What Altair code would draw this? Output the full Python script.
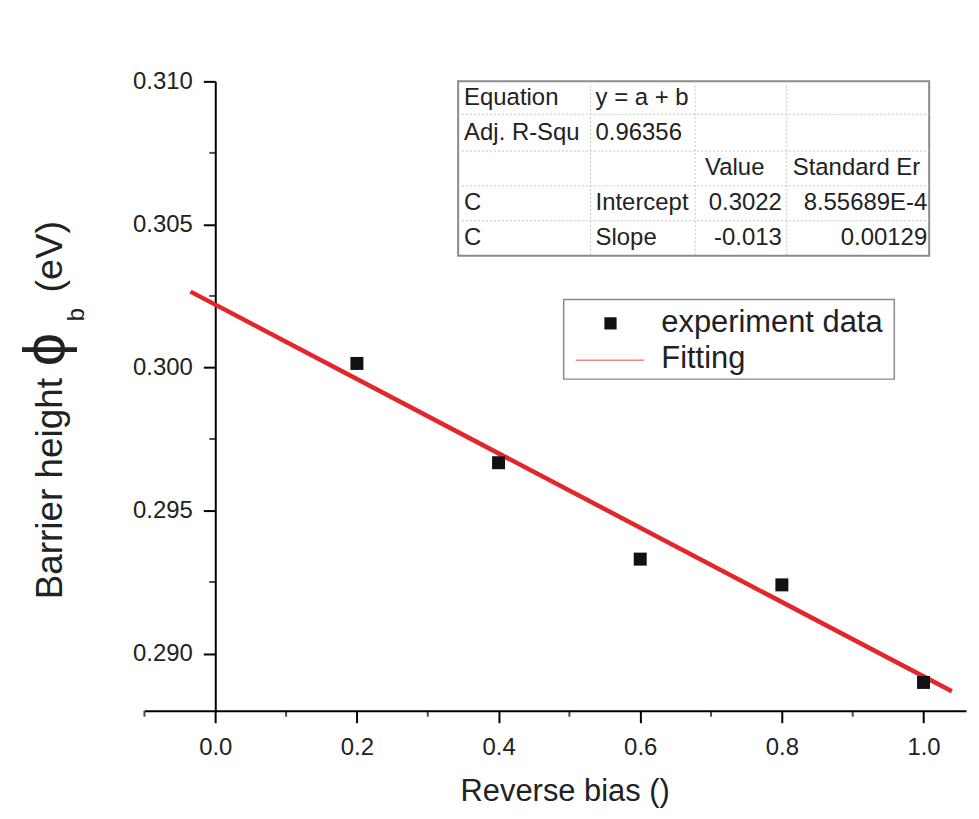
import altair as alt
import pandas as pd

# ---------------- data ----------------
bias = [0.2, 0.4, 0.6, 0.8, 1.0]
barrier = [0.30014, 0.29667, 0.29330, 0.29240, 0.28899]
fit_x = [-0.035, 1.04]
fit_y = [0.30265, 0.28868]

x_major_ticks = [0.0, 0.2, 0.4, 0.6, 0.8, 1.0]
x_minor_ticks = [-0.1, 0.1, 0.3, 0.5, 0.7, 0.9]
y_major_ticks = [0.290, 0.295, 0.300, 0.305, 0.310]
y_minor_ticks = [0.2925, 0.2975, 0.3025, 0.3075]

x_title = "Reverse bias ()"
y_title_main = "Barrier height"
y_title_sym = "ϕ"
y_title_sub = "b"
y_title_unit = "(eV)"

legend_labels = ["experiment data", "Fitting"]

table_rows = [
    ["Equation", "y = a + b", "", ""],
    ["Adj. R-Squ", "0.96356", "", ""],
    ["", "", "Value", "Standard Er"],
    ["C", "Intercept", "0.3022", "8.55689E-4"],
    ["C", "Slope", "-0.013", "0.00129"],
]

# ---------------- layout / style ----------------
W, H = 825, 632
X_DOMAIN = [-0.1, 1.06]
Y_DOMAIN = [0.288, 0.310]
FONT = "Liberation Sans"
TXT = "#222222"
RED = "#e3262b"

# annotation pixel layout (relative to plot origin)
col_edges = [315, 448, 553, 645, 788]
row_edges = [0, 33, 70, 105, 140, 175]
col_left = [321, 453, 563, 651]
col_right = [None, None, 640, 786]

y_axis_offset = -W * (0 - X_DOMAIN[0]) / (X_DOMAIN[1] - X_DOMAIN[0])

# ---------------- data layer ----------------
pts = pd.DataFrame({"bias": bias, "barrier": barrier})
fit = pd.DataFrame({"bias": fit_x, "barrier": fit_y})

xscale = alt.Scale(domain=X_DOMAIN, nice=False, zero=False)
yscale = alt.Scale(domain=Y_DOMAIN, nice=False, zero=False)

x_axis = alt.Axis(
    values=x_major_ticks,
    format=".1f",
    tickSize=12,
    labelPadding=13,
    labelFontSize=24,
    labelOverlap=False,
    labelFlush=False,
    title=x_title,
    titleFontSize=31,
    titleFontWeight="normal",
    titlePadding=17,
    titleX=422,
    grid=False,
)
y_axis = alt.Axis(
    values=y_major_ticks,
    format=".3f",
    tickSize=12,
    labelPadding=11,
    labelFontSize=24,
    labelOverlap=False,
    labelFlush=False,
    offset=y_axis_offset,
    title=None,
    grid=False,
)

line = alt.Chart(fit).mark_line(color=RED, strokeWidth=4.5).encode(
    x=alt.X("bias:Q", scale=xscale, axis=x_axis),
    y=alt.Y("barrier:Q", scale=yscale, axis=y_axis),
)
points = alt.Chart(pts).mark_square(size=170, color="#111111", opacity=1).encode(
    x=alt.X("bias:Q", scale=xscale),
    y=alt.Y("barrier:Q", scale=yscale),
)
x_minor = alt.Chart(pd.DataFrame({"v": x_minor_ticks})).mark_tick(
    orient="vertical", size=6, thickness=2, color="black", yOffset=3
).encode(
    x=alt.X("v:Q", scale=xscale),
    y=alt.datum(Y_DOMAIN[0], scale=yscale),
)
y_minor = alt.Chart(pd.DataFrame({"v": y_minor_ticks})).mark_tick(
    orient="horizontal", size=6, thickness=2, color="black", xOffset=-3
).encode(
    y=alt.Y("v:Q", scale=yscale),
    x=alt.datum(0, scale=xscale),
)
data_layer = alt.layer(line, points, x_minor, y_minor)

# ---------------- annotation layer (pixel coordinates) ----------------
PX = alt.Scale(domain=[0, W], range=[0, W], nice=False, zero=False)
PY = alt.Scale(domain=[0, H], range=[0, H], nice=False, zero=False)


def ax(field):
    return alt.X(field, scale=PX, axis=None)


def ay(field):
    return alt.Y(field, scale=PY, axis=None)


one = pd.DataFrame({"a": [0]})

# table
border = alt.Chart(pd.DataFrame({
    "x": [col_edges[0]], "x2": [col_edges[-1]], "y": [row_edges[0]], "y2": [row_edges[-1]]
})).mark_rect(fill="white", stroke="#8a8a8a", strokeWidth=2).encode(
    x=ax("x:Q"), x2="x2", y=ay("y:Q"), y2="y2"
)
vlines = alt.Chart(pd.DataFrame({
    "x": col_edges[1:-1], "y": [row_edges[0]] * 3, "y2": [row_edges[-1]] * 3
})).mark_rule(color="#c4c4c4", strokeWidth=1, strokeDash=[2, 2]).encode(
    x=ax("x:Q"), y=ay("y:Q"), y2="y2"
)
hlines = alt.Chart(pd.DataFrame({
    "y": row_edges[1:-1], "x": [col_edges[0]] * 4, "x2": [col_edges[-1]] * 4
})).mark_rule(color="#c4c4c4", strokeWidth=1, strokeDash=[2, 2]).encode(
    y=ay("y:Q"), x=ax("x:Q"), x2="x2"
)

left_cells, right_cells = [], []
for r, row in enumerate(table_rows):
    cy = (row_edges[r] + row_edges[r + 1]) / 2
    for c, txt in enumerate(row):
        if not txt:
            continue
        numeric = True
        try:
            float(txt)
        except ValueError:
            numeric = False
        if numeric and col_right[c] is not None:
            right_cells.append({"x": col_right[c], "y": cy, "t": txt})
        else:
            left_cells.append({"x": col_left[c], "y": cy, "t": txt})

tleft = alt.Chart(pd.DataFrame(left_cells)).mark_text(
    align="left", baseline="middle", font=FONT, fontSize=24, color=TXT
).encode(x=ax("x:Q"), y=ay("y:Q"), text="t:N")
tright = alt.Chart(pd.DataFrame(right_cells)).mark_text(
    align="right", baseline="middle", font=FONT, fontSize=24, color=TXT
).encode(x=ax("x:Q"), y=ay("y:Q"), text="t:N")

# legend
leg_box = alt.Chart(pd.DataFrame({"x": [421], "x2": [753], "y": [219], "y2": [299]})).mark_rect(
    fill="white", stroke="#8a8a8a", strokeWidth=1.5
).encode(x=ax("x:Q"), x2="x2", y=ay("y:Q"), y2="y2")
leg_sq = alt.Chart(pd.DataFrame({"x": [468], "y": [243]})).mark_square(
    size=150, color="#111111", opacity=1
).encode(x=ax("x:Q"), y=ay("y:Q"))
leg_line = alt.Chart(pd.DataFrame({"x": [433], "x2": [502], "y": [280]})).mark_rule(
    color="#e88a8a", strokeWidth=1.5
).encode(x=ax("x:Q"), x2="x2", y=ay("y:Q"))
leg_text = alt.Chart(pd.DataFrame({"x": [519, 519], "y": [243, 279], "t": legend_labels})).mark_text(
    align="left", baseline="middle", font=FONT, fontSize=31, color=TXT
).encode(x=ax("x:Q"), y=ay("y:Q"), text="t:N")

# y title pieces (rotated)
yt_main = alt.Chart(one).mark_text(
    text=y_title_main, angle=270, align="left", baseline="alphabetic",
    font=FONT, fontSize=37, color=TXT
).encode(x=alt.value(-83), y=alt.value(520))
yt_sym = alt.Chart(one).mark_text(
    text=y_title_sym, angle=270, align="left", baseline="alphabetic",
    font=FONT, fontSize=60, color=TXT
).encode(x=alt.value(-80), y=alt.value(286))
yt_sub = alt.Chart(one).mark_text(
    text=y_title_sub, angle=270, align="left", baseline="alphabetic",
    font=FONT, fontSize=24, color=TXT
).encode(x=alt.value(-61), y=alt.value(241))
yt_unit = alt.Chart(one).mark_text(
    text=y_title_unit, angle=270, align="left", baseline="alphabetic",
    font=FONT, fontSize=38, color=TXT
).encode(x=alt.value(-83), y=alt.value(212))

annot_layer = alt.layer(
    border, vlines, hlines, tleft, tright,
    leg_box, leg_sq, leg_line, leg_text,
    yt_main, yt_sym, yt_sub, yt_unit,
)

chart = alt.layer(annot_layer, data_layer).resolve_scale(
    x="independent", y="independent"
).properties(
    width=W,
    height=H,
    padding={"left": 137, "top": 72, "right": 5, "bottom": 99},
    autosize=alt.AutoSizeParams(type="none"),
    background="white",
).configure_view(stroke=None).configure_axis(
    domainColor="black",
    domainWidth=2,
    tickColor="black",
    tickWidth=2,
    labelColor=TXT,
    titleColor=TXT,
    labelFont=FONT,
    titleFont=FONT,
)

chart.save("out.html", embed_options={"renderer": "svg", "actions": False})
